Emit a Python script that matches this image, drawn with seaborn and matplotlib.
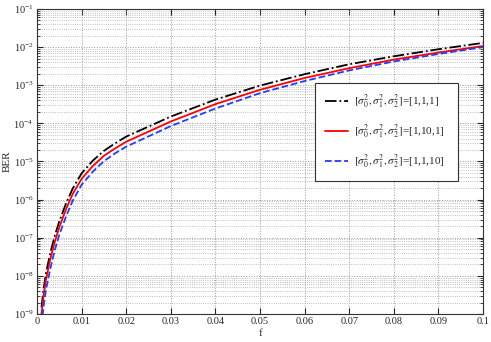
import numpy as np
import pandas as pd
import matplotlib
matplotlib.use('Agg')
import matplotlib.pyplot as plt
import matplotlib.ticker as mticker
import seaborn as sns

# values
f = [0.001, 0.0015, 0.002, 0.003, 0.004, 0.005, 0.0065, 0.008, 0.01, 0.0125,
     0.015, 0.0175, 0.02, 0.03, 0.04, 0.05, 0.06, 0.07, 0.08, 0.09, 0.1]
ber_111 = [1.5e-9, 4.8e-9, 1.17e-8, 4.1e-8, 1.15e-7, 2.7e-7, 7.9e-7, 1.95e-6, 4.9e-6,
           1.05e-5, 1.9e-5, 3.0e-5, 4.5e-5, 1.51e-4, 4.2e-4, 9.8e-4, 1.95e-3, 3.55e-3,
           5.75e-3, 8.8e-3, 1.29e-2]
ber_1101 = [1.0e-9, 3.2e-9, 7.9e-9, 2.8e-8, 7.9e-8, 1.9e-7, 5.6e-7, 1.41e-6, 3.5e-6,
            7.6e-6, 1.41e-5, 2.2e-5, 3.3e-5, 1.12e-4, 3.2e-4, 7.6e-4, 1.55e-3, 2.8e-3,
            4.7e-3, 7.2e-3, 1.07e-2]
ber_1110 = [5.0e-10, 1.66e-9, 4.3e-9, 1.58e-8, 4.8e-8, 1.2e-7, 3.6e-7, 9.3e-7, 2.45e-6,
            5.4e-6, 1.02e-5, 1.64e-5, 2.45e-5, 8.5e-5, 2.45e-4, 6.2e-4, 1.29e-3, 2.45e-3,
            4.2e-3, 6.6e-3, 1.0e-2]
labels = [r'$[\sigma_0^2,\sigma_1^2,\sigma_2^2]$=[1,1,1]',
          r'$[\sigma_0^2,\sigma_1^2,\sigma_2^2]$=[1,10,1]',
          r'$[\sigma_0^2,\sigma_1^2,\sigma_2^2]$=[1,1,10]']
xticks = [0, 0.01, 0.02, 0.03, 0.04, 0.05, 0.06, 0.07, 0.08, 0.09, 0.1]
xticklabels = ['0', '0.01', '0.02', '0.03', '0.04', '0.05', '0.06', '0.07', '0.08', '0.09', '0.1']

sns.set_style('ticks')
plt.rcParams['font.family'] = 'serif'
plt.rcParams['font.serif'] = ['Liberation Serif', 'Times New Roman', 'DejaVu Serif']
plt.rcParams['mathtext.fontset'] = 'stix'
plt.rcParams['xtick.direction'] = 'in'
plt.rcParams['ytick.direction'] = 'in'

fig = plt.figure(figsize=(4.91, 3.42), dpi=100)
ax = fig.add_axes([0.0754, 0.0819, 0.9083, 0.8918])

sns.lineplot(x=f, y=ber_111, ax=ax, color='black', linestyle='-.', linewidth=1.3, label=labels[0])
sns.lineplot(x=f, y=ber_1101, ax=ax, color='#ff0000', linestyle='-', linewidth=1.3, label=labels[1])
sns.lineplot(x=f, y=ber_1110, ax=ax, color='#1f3dff', linestyle='--', linewidth=1.3, label=labels[2])

ax.set_yscale('log')
ax.set_xlim(0, 0.1)
ax.set_ylim(1e-9, 1e-1)
ax.set_xticks(xticks)
ax.set_xticklabels(xticklabels)
ax.yaxis.set_major_locator(mticker.LogLocator(base=10, numticks=20))
ax.yaxis.set_minor_locator(mticker.LogLocator(base=10, subs=np.arange(2, 10), numticks=100))
ax.yaxis.set_minor_formatter(mticker.NullFormatter())
ax.tick_params(axis='both', which='both', top=True, right=True, labelsize=7.5, pad=2.5)
ax.tick_params(which='major', length=4)
ax.tick_params(which='minor', length=2)
ax.grid(True, which='major', linestyle=':', color='#999999', linewidth=0.7)
ax.grid(True, which='minor', axis='y', linestyle=':', color='#aaaaaa', linewidth=0.6)
ax.set_xlabel('f', fontsize=8, labelpad=1.5)
ax.set_ylabel('BER', fontsize=8, labelpad=1)
for s in ax.spines.values():
    s.set_linewidth(0.8)
    s.set_color('#333333')

leg = ax.legend(loc='upper left', bbox_to_anchor=(0.623, 0.452, 0.321, 0.305), mode='expand',
                fontsize=8, frameon=True, fancybox=False, edgecolor='#333333', framealpha=1,
                labelspacing=1.05, handlelength=2.1, borderpad=0.9, handletextpad=0.5,
                borderaxespad=0)
leg.get_frame().set_linewidth(0.8)

fig.savefig('out.png', dpi=100)
